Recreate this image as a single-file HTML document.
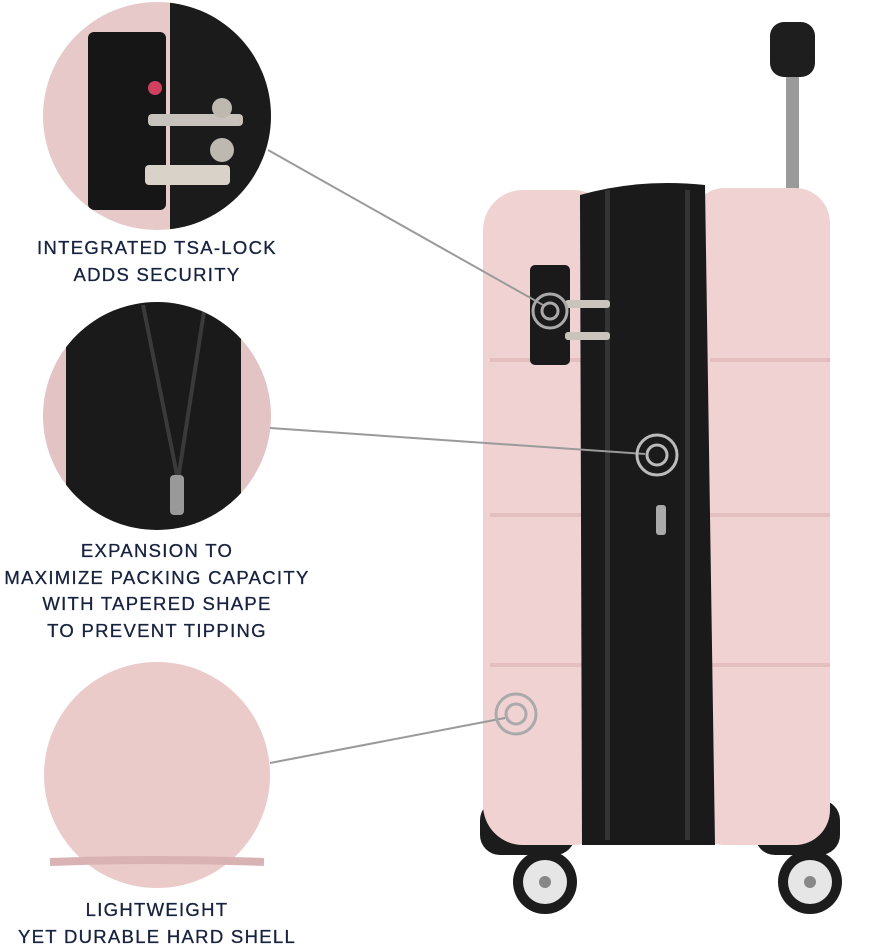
<!DOCTYPE html>
<html><head><style>
body{margin:0;width:876px;height:949px;background:#fff;overflow:hidden;position:relative;font-family:"Liberation Sans",sans-serif}
.t{position:absolute;left:0;width:314px;text-align:center;color:#17223f;font-size:18.5px;letter-spacing:1.3px;line-height:26.5px;-webkit-text-stroke:0.3px #17223f}
</style></head><body>
<svg width="876" height="949" style="position:absolute;left:0;top:0">
<defs>
<clipPath id="c1"><circle cx="157" cy="116" r="114"/></clipPath>
<clipPath id="c2"><circle cx="157" cy="416" r="114"/></clipPath>
</defs>
<!-- circle 1 -->
<g clip-path="url(#c1)">
<rect x="40" y="0" width="240" height="240" fill="#e8c9c9"/>
<rect x="170" y="0" width="110" height="240" fill="#1b1b1b"/>
<rect x="88" y="32" width="78" height="178" rx="6" fill="#161616"/>
<circle cx="155" cy="88" r="7" fill="#d04060"/>
<rect x="148" y="114" width="95" height="12" rx="4" fill="#c7c2bb"/>
<rect x="145" y="165" width="85" height="20" rx="4" fill="#d8d2c8"/>
<circle cx="222" cy="108" r="10" fill="#bdb8b0"/>
<circle cx="222" cy="150" r="12" fill="#bdb8b0"/>
</g>
<!-- circle 2 -->
<g clip-path="url(#c2)">
<rect x="40" y="300" width="240" height="240" fill="#e3c3c3"/>
<rect x="66" y="300" width="175" height="240" fill="#1a1a1a"/>
<path d="M143 305 L178 480 L205 305" stroke="#3a3a3a" stroke-width="4" fill="none"/>
<rect x="170" y="475" width="14" height="40" rx="4" fill="#999"/>
</g>
<!-- circle 3 -->
<circle cx="157" cy="775" r="113" fill="#ebcaca"/>
<path d="M50 862 Q157 858 264 862" stroke="#d9b3b4" stroke-width="8" fill="none"/>
<!-- suitcase handle -->
<rect x="786" y="70" width="13" height="125" fill="#9a9a9a"/>
<rect x="770" y="22" width="45" height="55" rx="14" fill="#1e1e1e"/>
<!-- wheels housing -->
<rect x="480" y="800" width="95" height="55" rx="20" fill="#1c1c1c"/>
<rect x="755" y="800" width="85" height="55" rx="20" fill="#1c1c1c"/>
<circle cx="545" cy="882" r="32" fill="#1c1c1c"/><circle cx="545" cy="882" r="22" fill="#e6e6e6"/><circle cx="545" cy="882" r="6" fill="#888"/>
<circle cx="810" cy="882" r="32" fill="#1c1c1c"/><circle cx="810" cy="882" r="22" fill="#e6e6e6"/><circle cx="810" cy="882" r="6" fill="#888"/>
<!-- body -->
<rect x="483" y="190" width="130" height="655" rx="40" fill="#f1d2d3"/>
<rect x="690" y="188" width="140" height="657" rx="35" fill="#f1d2d3"/>
<path d="M490 360 L600 360 M490 515 L600 515 M490 665 L600 665 M710 360 L830 360 M710 515 L830 515 M710 665 L830 665" stroke="#e3bfc0" stroke-width="4"/>
<path d="M580 195 Q640 178 705 185 L715 845 L582 845 Z" fill="#1a1a1a"/>
<rect x="605" y="190" width="5" height="650" fill="#333"/>
<rect x="685" y="190" width="5" height="650" fill="#333"/>
<rect x="530" y="265" width="40" height="100" rx="5" fill="#1a1a1a"/>
<rect x="565" y="300" width="45" height="8" rx="3" fill="#c9c3bb"/>
<rect x="565" y="332" width="45" height="8" rx="3" fill="#c9c3bb"/>
<rect x="656" y="505" width="10" height="30" rx="3" fill="#aaa"/>
<!-- connectors -->
<line x1="268" y1="150" x2="543" y2="305" stroke="#9a9a9a" stroke-width="2"/>
<line x1="270" y1="428" x2="645" y2="454" stroke="#9a9a9a" stroke-width="2"/>
<line x1="270" y1="763" x2="505" y2="718" stroke="#9a9a9a" stroke-width="2"/>
<circle cx="550" cy="311" r="17" fill="none" stroke="#aaa" stroke-width="3"/><circle cx="550" cy="311" r="8" fill="none" stroke="#aaa" stroke-width="3"/>
<circle cx="657" cy="455" r="20" fill="none" stroke="#bbb" stroke-width="3"/><circle cx="657" cy="455" r="10" fill="none" stroke="#bbb" stroke-width="3"/>
<circle cx="516" cy="714" r="20" fill="none" stroke="#aaa" stroke-width="3"/><circle cx="516" cy="714" r="10" fill="none" stroke="#aaa" stroke-width="3"/>
</svg>
<div class="t" style="top:235px">INTEGRATED TSA-LOCK<br>ADDS SECURITY</div>
<div class="t" style="top:538px">EXPANSION TO<br>MAXIMIZE PACKING CAPACITY<br>WITH TAPERED SHAPE<br>TO PREVENT TIPPING</div>
<div class="t" style="top:897px">LIGHTWEIGHT<br>YET DURABLE HARD SHELL</div>
</body></html>
